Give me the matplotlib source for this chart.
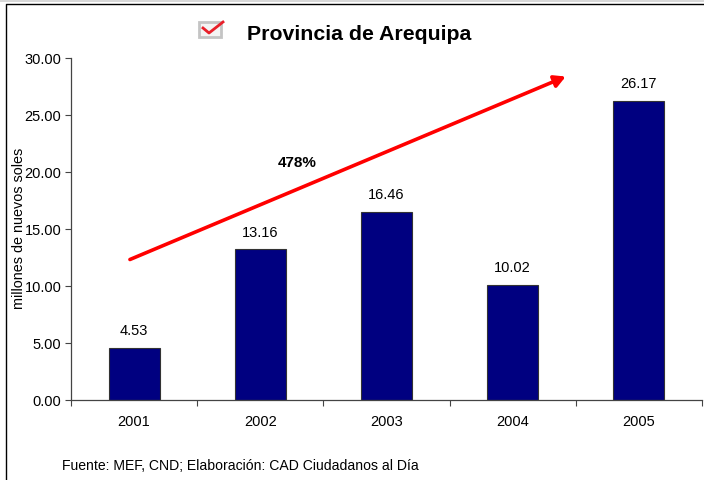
import matplotlib
matplotlib.use("Agg")
import matplotlib.pyplot as plt
from matplotlib.patches import Rectangle
from matplotlib.lines import Line2D

plt.rcParams['font.family'] = ['Liberation Sans', 'DejaVu Sans']

years = ['2001', '2002', '2003', '2004', '2005']
values = [4.53, 13.16, 16.46, 10.02, 26.17]
yticks = [0, 5, 10, 15, 20, 25, 30]

W, H = 704, 481
fig = plt.figure(figsize=(W / 100, H / 100), dpi=100)

def fx(x):
    return x / W

def fy(y):
    return 1 - y / H

# outer frame of the slide, runs off the bottom and right
fig.add_artist(Rectangle((0, fy(3)), 1, 3 / H, transform=fig.transFigure, fc='#d8d8d8', ec='none'))
fig.add_artist(Line2D([fx(6), fx(6), 1], [0, fy(5), fy(5)], transform=fig.transFigure, color='black', lw=1.0))

ax = fig.add_axes([fx(71), fy(400.5), (702 - 71) / W, (400.5 - 58.5) / H])
ax.bar(range(5), values, width=0.405, color='#000080', edgecolor='#333333', linewidth=0.8)
ax.set_xlim(-0.5, 4.5)
ax.set_ylim(0, 30)
for i, v in enumerate(values):
    ax.text(i, v + 0.95, '%.2f' % v, ha='center', va='bottom', fontsize=10.5)

ax.set_xticks([i - 0.5 for i in range(6)])
ax.set_xticklabels([])
for i, y in enumerate(years):
    ax.text(i, -1.9, y, ha='center', va='center', fontsize=10.5)
ax.set_yticks(yticks)
ax.set_yticklabels(['%.2f' % t for t in yticks], fontsize=10.5)
ax.tick_params(axis='both', length=4, width=0.8, color='#444444', pad=3)
for s in ['top', 'right']:
    ax.spines[s].set_visible(False)
for s in ['left', 'bottom']:
    ax.spines[s].set_color('#444444')
    ax.spines[s].set_linewidth(0.9)

fig.text(fx(19), fy(228), 'millones de nuevos soles', rotation=90, ha='center', va='center', fontsize=10.4)
fig.text(fx(359), fy(34), 'Provincia de Arequipa', ha='center', va='center', fontsize=15.3, fontweight='bold')
fig.text(fx(62), fy(466), 'Fuente: MEF, CND; Elaboración: CAD Ciudadanos al Día', ha='left', va='center', fontsize=10.1)

# growth arrow
ax.annotate('', xy=(3.42, 28.33), xytext=(-0.033, 12.28),
            arrowprops=dict(arrowstyle='-|>,head_length=0.55,head_width=0.3', color='#ff0000', lw=2.6,
                            shrinkA=0, shrinkB=0, mutation_scale=12))
ax.text(1.29, 20.8, '478%', ha='center', va='center', fontsize=11, fontweight='bold')

# check box icon
fig.add_artist(Rectangle((fx(199), fy(38)), 22 / W, 15 / H, transform=fig.transFigure, fc='#f4f4f4', ec='#c4c4c4', lw=2))
fig.add_artist(Line2D([fx(203), fx(209), fx(223)], [fy(29), fy(34), fy(23)], transform=fig.transFigure, color='#e8202a', lw=2))

fig.savefig('out.png', dpi=100)
